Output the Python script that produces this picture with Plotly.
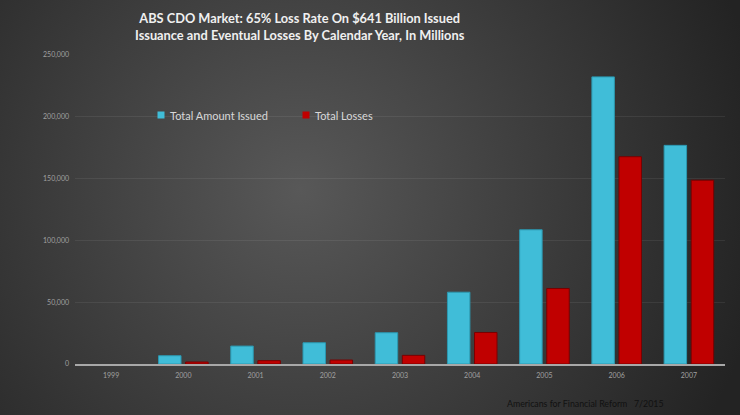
import base64
import plotly.graph_objects as go

years = ["1999", "2000", "2001", "2002", "2003", "2004", "2005", "2006", "2007"]
issued = [0, 6700, 14500, 17200, 25300, 58100, 108600, 232300, 176900]
losses = [0, 1600, 2700, 3200, 7000, 25500, 61100, 167700, 148700]
ytick_vals = [0, 50000, 100000, 150000, 200000, 250000]
ytick_text = ["0", "50,000", "100,000", "150,000", "200,000", "250,000"]
series_names = ["Total Amount Issued", "Total Losses"]
series_colors = ["#40bdd8", "#c00000"]
edge_colors = ["#2b98b0", "#7a0000"]

title_text = ("ABS CDO Market: 65% Loss Rate On $641 Billion Issued<br>"
              "Issuance and Eventual Losses By Calendar Year, In Millions")
footer_text = "Americans for Financial Reform"
footer_date = "7/2015"

# plot area in pixels: x 75..725, y 55..364
L, R, T, B = 75, 15, 55, 51
PW, PH = 740 - L - R, 415 - T - B


def px(x):
    return (x - L) / PW


def py(y):
    return (415 - B - y) / PH


svg = ('<svg xmlns="http://www.w3.org/2000/svg" width="740" height="415">'
       '<defs><radialGradient id="g" cx="300" cy="190" r="470" gradientUnits="userSpaceOnUse">'
       '<stop offset="0" stop-color="#585858"/><stop offset="1" stop-color="#232323"/>'
       '</radialGradient></defs><rect width="740" height="415" fill="url(#g)"/></svg>')
bg_src = "data:image/svg+xml;base64," + base64.b64encode(svg.encode()).decode()

fig = go.Figure()
for vals, name, col, edge in zip([issued, losses], series_names, series_colors, edge_colors):
    fig.add_trace(go.Bar(
        x=years, y=vals, name=name,
        marker=dict(color=col, line=dict(color=edge, width=[0 if v == 0 else 1 for v in vals])),
    ))

annotations = [
    dict(text=title_text, xref="paper", yref="paper", x=px(300), y=py(8),
         xanchor="center", yanchor="top", showarrow=False,
         font=dict(size=12.8, color="#f0f0f0", family="Lato, sans-serif", weight="bold")),
    dict(text=footer_text, xref="paper", yref="paper", x=px(505), y=py(403),
         xanchor="left", yanchor="middle", showarrow=False,
         font=dict(size=8.8, color="#111111")),
    dict(text=footer_date, xref="paper", yref="paper", x=px(632), y=py(403),
         xanchor="left", yanchor="middle", showarrow=False,
         font=dict(size=8.8, color="#111111")),
]
shapes = []
legend_x = [161, 306]
for lx, name, col in zip(legend_x, series_names, series_colors):
    shapes.append(dict(type="rect", xref="paper", yref="paper",
                       x0=px(lx - 3.5), x1=px(lx + 3.5), y0=py(118.5), y1=py(111.5),
                       fillcolor=col, line=dict(width=0)))
    annotations.append(dict(text=name, xref="paper", yref="paper", x=px(lx + 7), y=py(115),
                            xanchor="left", yanchor="middle", showarrow=False,
                            font=dict(size=11, color="#d8d8d8")))

fig.update_layout(
    width=740, height=415,
    margin=dict(l=L, r=R, t=T, b=B),
    paper_bgcolor="#333333",
    plot_bgcolor="rgba(0,0,0,0)",
    barmode="group", bargap=0.25, bargroupgap=0.17,
    font=dict(family="Lato, Open Sans, sans-serif", color="#d8d8d8"),
    showlegend=False,
    images=[dict(source=bg_src, xref="paper", yref="paper", x=px(0), y=py(0),
                 sizex=740 / PW, sizey=415 / PH, xanchor="left", yanchor="top",
                 sizing="stretch", layer="below")],
    annotations=annotations,
    shapes=shapes,
    xaxis=dict(
        showgrid=False, showline=True, linecolor="#a8a8a8", linewidth=1.5,
        tickfont=dict(size=7, color="#a0a0a0"), ticks="", ticklabelstandoff=4,
    ),
    yaxis=dict(
        range=[0, 250000], tickvals=ytick_vals, ticktext=ytick_text,
        showgrid=True, gridcolor="rgba(255,255,255,0.07)", gridwidth=1,
        zeroline=False, showline=False,
        tickfont=dict(size=7, color="#a0a0a0"), ticks="", ticklabelstandoff=5,
    ),
)

fig.write_html("out.html", config={"displayModeBar": False},
               post_script="document.body.style.margin='0';")
